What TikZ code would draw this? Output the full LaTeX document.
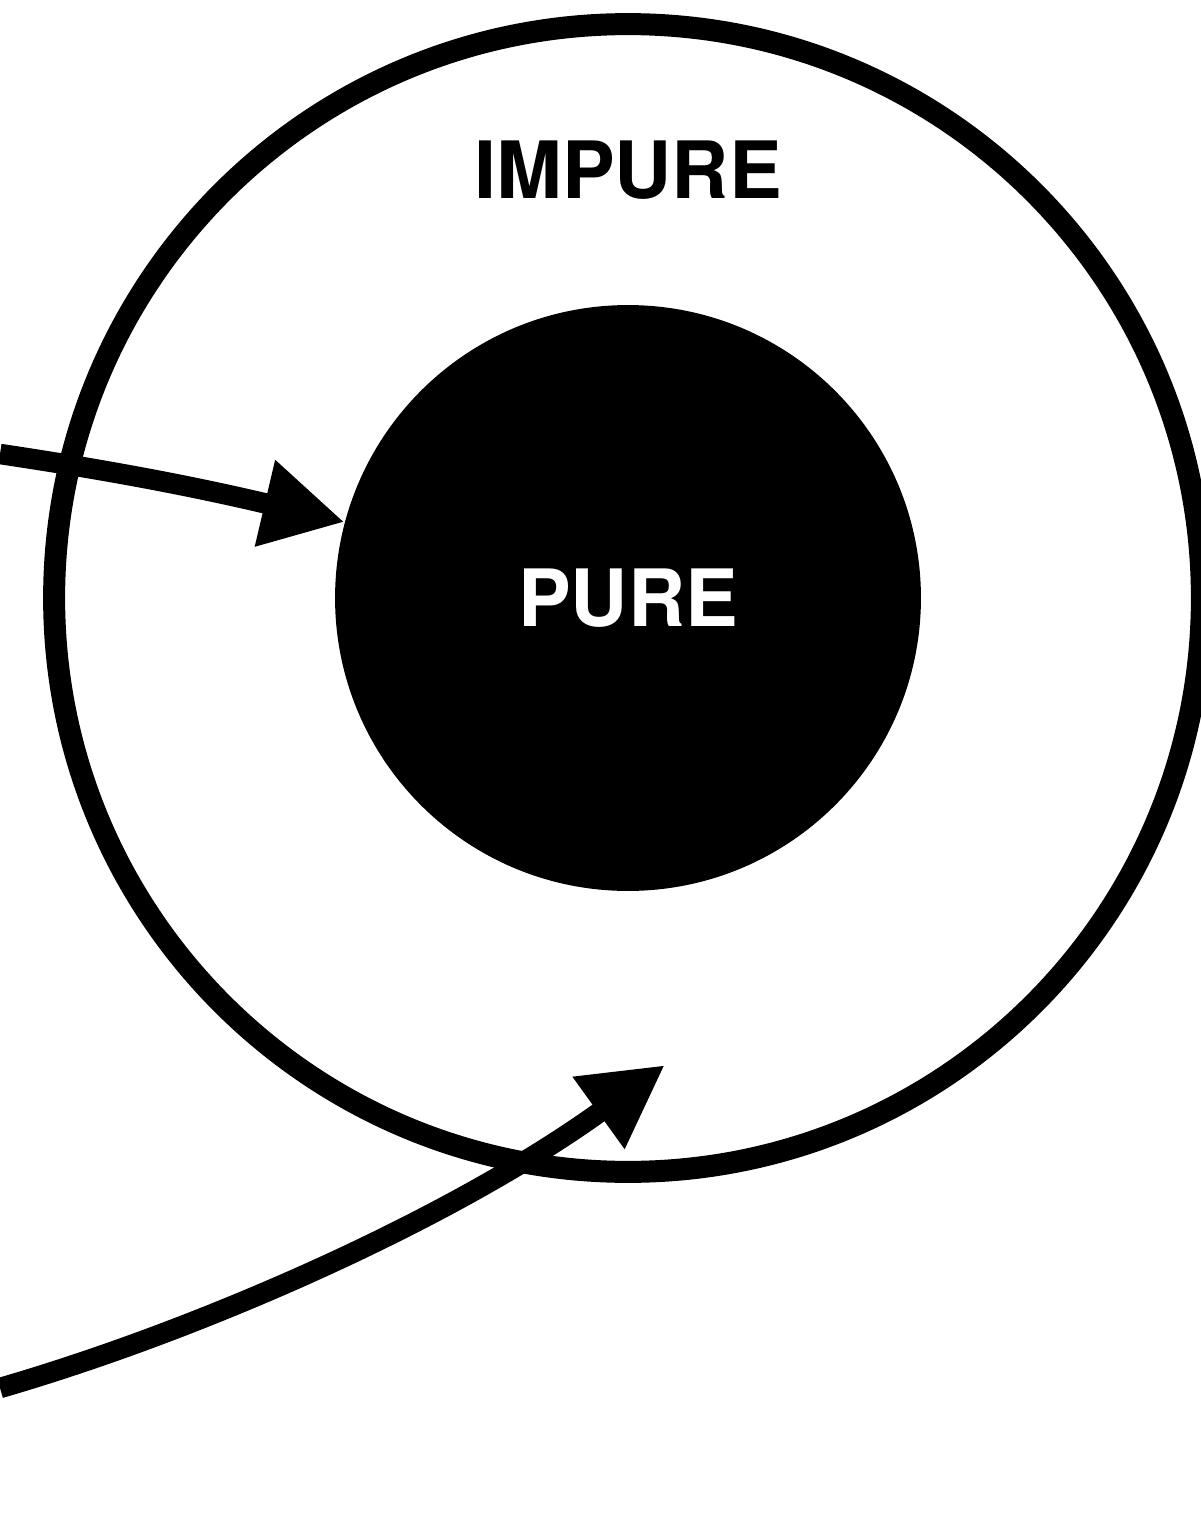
\documentclass[tikz,border=0pt]{standalone}
\usepackage{fontspec}
\setmainfont{TeX Gyre Heros}
\usetikzlibrary{arrows.meta,positioning}

\begin{document}
\begin{tikzpicture}[
  x=0.02cm, y=-0.02cm,
  every node/.style={font=\fontsize{45}{50}\selectfont\bfseries},
  ring/.style={circle, draw, line width=0.44cm, inner sep=0pt, minimum size=22.96cm},
  core/.style={circle, fill=black, text=white, inner sep=0pt, minimum size=11.72cm},
  arr/.style={line width=0.41cm, -{Triangle[length=1.64cm, width=1.66cm]}}
]
  \useasboundingbox (0,0) rectangle (1200,1513);
  \node[ring] (impure) at (628,598) {};
  \node[core] (pure) at (628,598) {PURE};
  \node (impurelabel) at (628,170) {IMPURE};

  \coordinate (in1) at (0,454);
  \coordinate (in2) at (0,1388);
  \coordinate (tip2) at (665,1065);

  \draw[arr] (in1) .. controls (120,472) and (200,488) .. (pure.165);
  \draw[arr] (in2) .. controls (200,1330) and (450,1220) .. (tip2);
\end{tikzpicture}
\end{document}
